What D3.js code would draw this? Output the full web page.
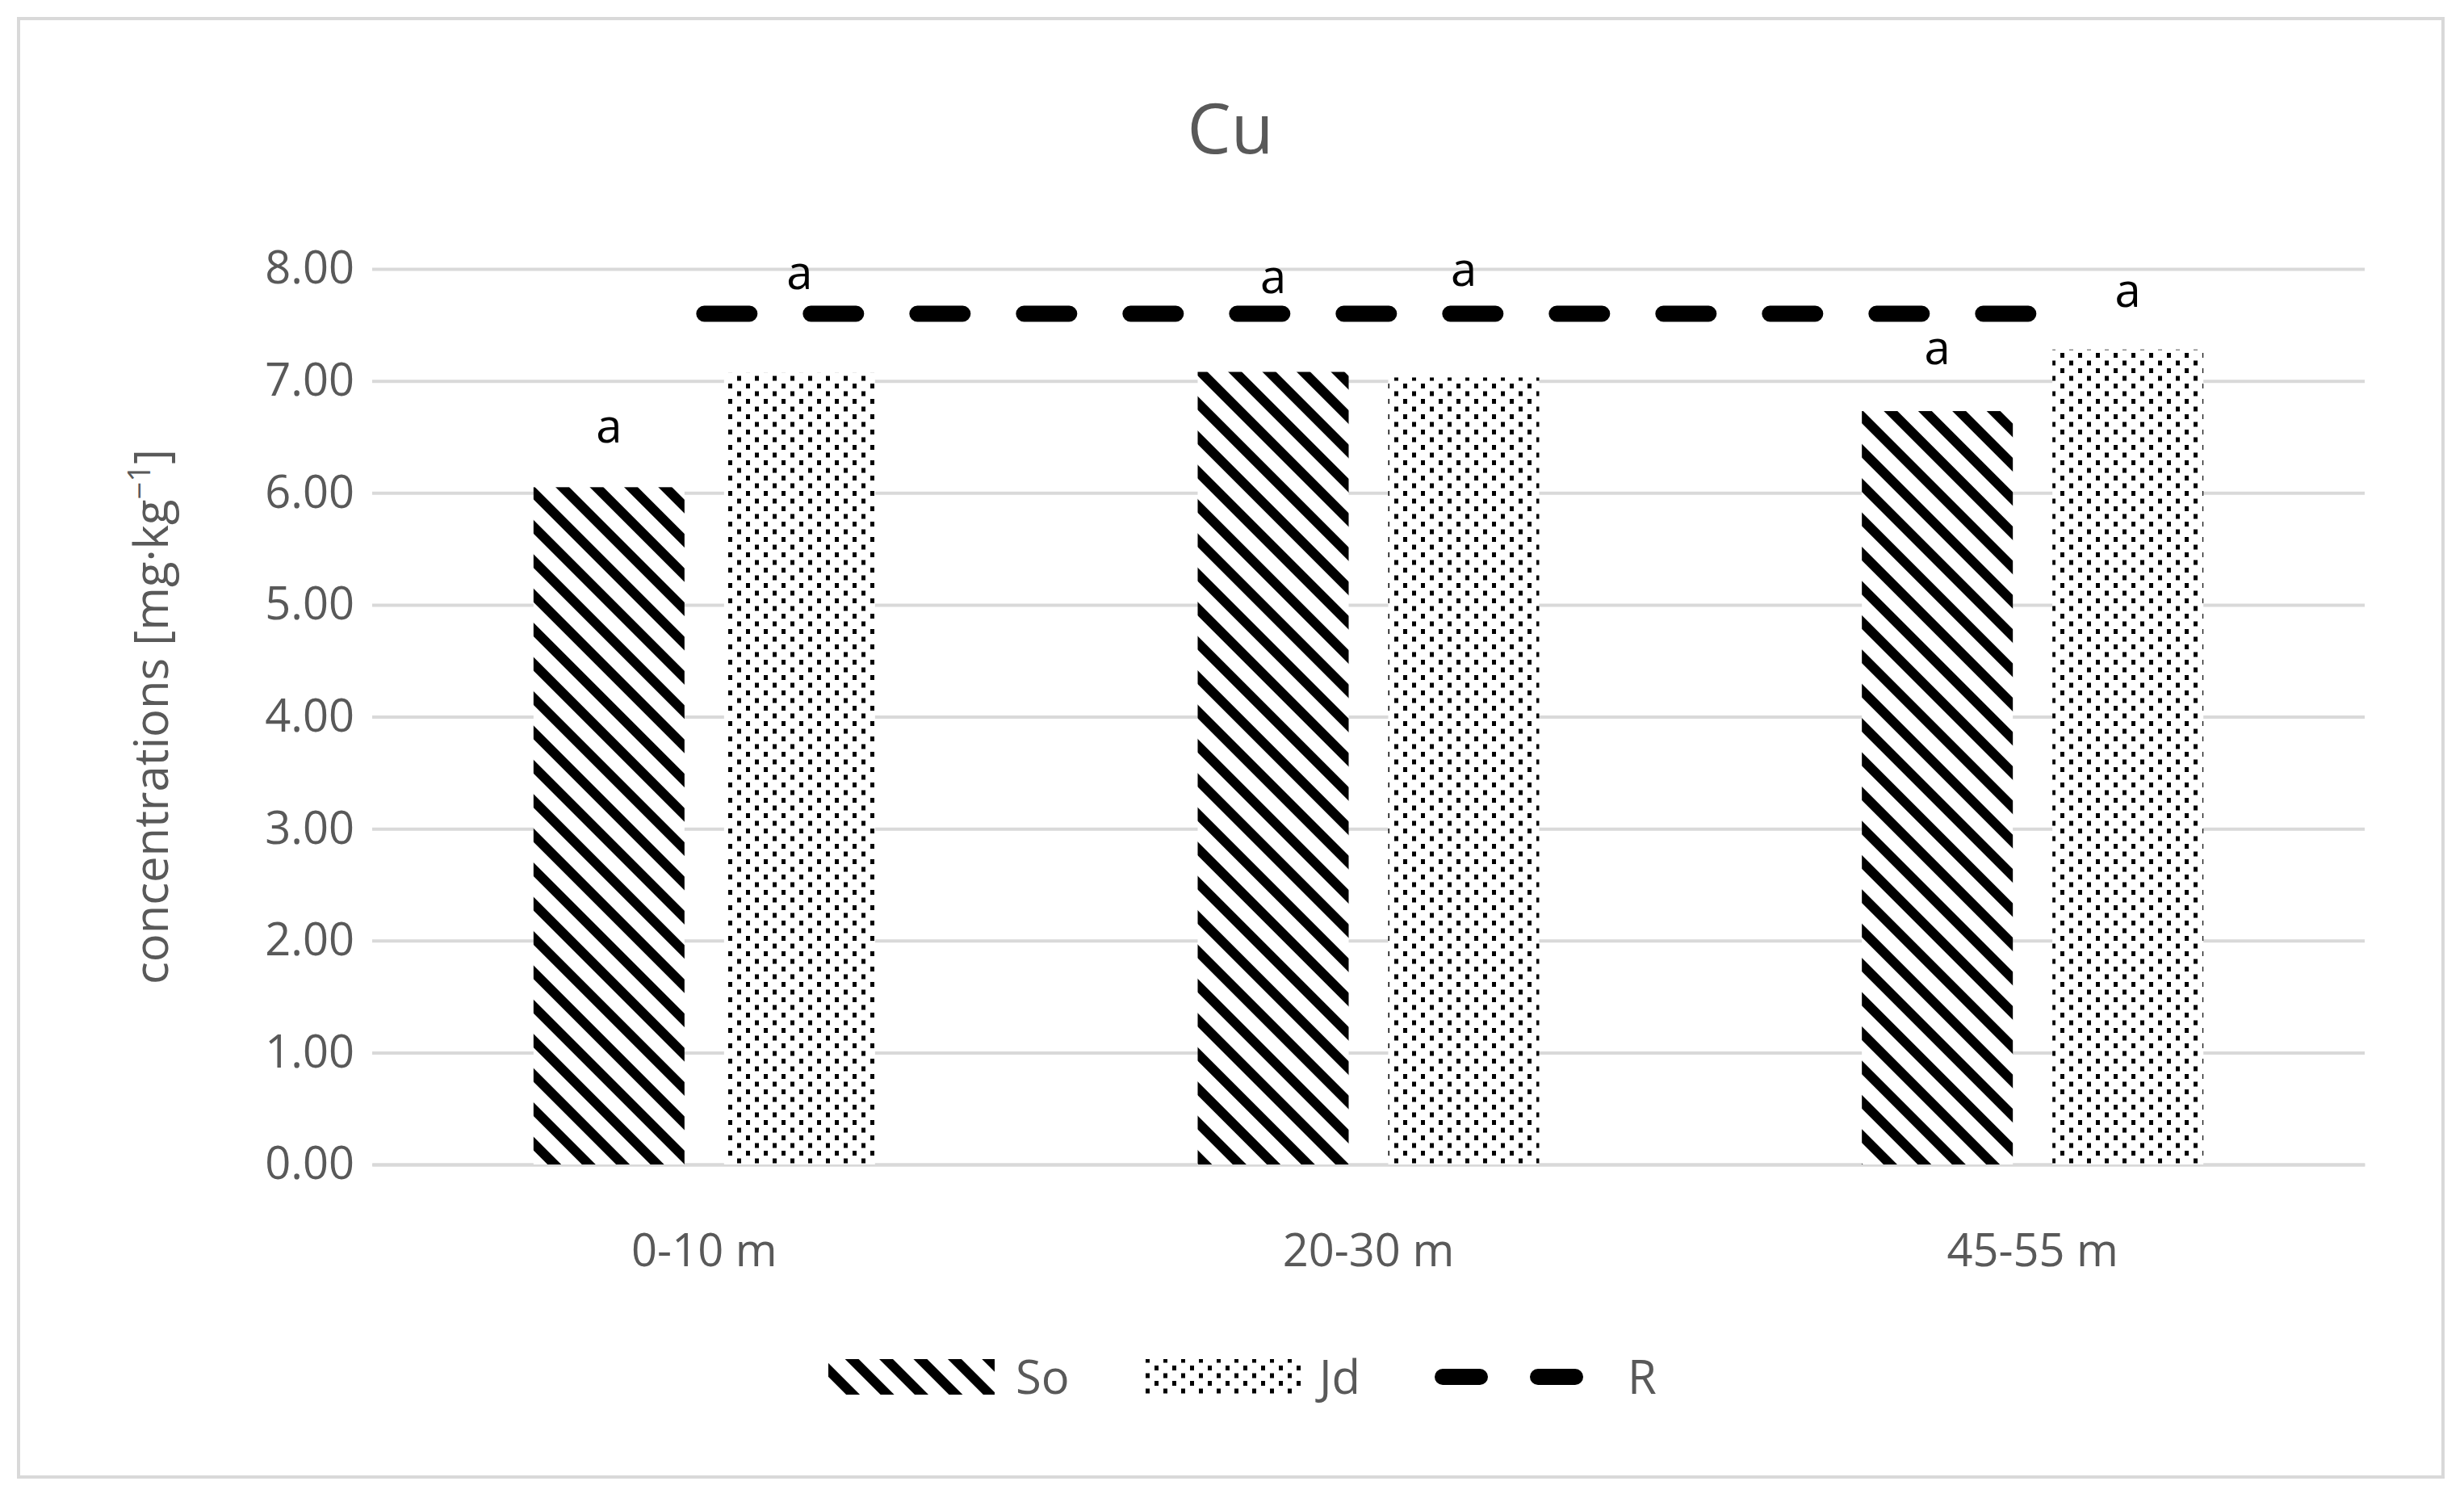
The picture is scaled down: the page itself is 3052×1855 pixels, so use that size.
<!DOCTYPE html>
<html>
<head>
<meta charset="utf-8">
<script src="https://cdn.jsdelivr.net/npm/d3@7"></script>
<style>
body { margin: 0; background: #fff; }
text { font-family: "Open Sans", "Noto Sans", sans-serif; }
</style>
</head>
<body>
<svg id="chart" width="3052" height="1855"></svg>
<script>
var categories = ['0-10 m', '20-30 m', '45-55 m'];
var soValues = [6.05, 7.08, 6.73];
var jdValues = [7.07, 7.03, 7.28];
var rValue = 7.6;
var soLabels = ['a', 'a', 'a'];
var jdLabels = ['a', 'a', 'a'];
var soLabelPos = [6.45, 7.78, 7.15];
var jdLabelPos = [7.82, 7.85, 7.66];
var yTicks = [0, 1, 2, 3, 4, 5, 6, 7, 8];

var svg = d3.select('#chart');
var pLeft = 461, pRight = 2929, pTop = 333, pBottom = 1442;

// border
svg.append('rect').attr('x', 23).attr('y', 23).attr('width', 3003).attr('height', 1806)
    .attr('fill', '#fff').attr('stroke', '#d9d9d9').attr('stroke-width', 4);

var defs = svg.append('defs');
var hatch = defs.append('pattern').attr('id', 'hatch').attr('patternUnits', 'userSpaceOnUse')
    .attr('width', 30).attr('height', 30).attr('patternTransform', 'rotate(-45)');
hatch.append('rect').attr('width', 30).attr('height', 30).attr('fill', '#fff');
hatch.append('rect').attr('width', 12).attr('height', 30).attr('fill', '#000');

var dots = defs.append('pattern').attr('id', 'dots').attr('patternUnits', 'userSpaceOnUse')
    .attr('width', 22).attr('height', 19);
dots.append('rect').attr('width', 22).attr('height', 19).attr('fill', '#fff');
dots.append('rect').attr('x', 0).attr('y', 0).attr('width', 5).attr('height', 6).attr('fill', '#000');
dots.append('rect').attr('x', 11).attr('y', 9.5).attr('width', 5).attr('height', 6).attr('fill', '#000');

var x = d3.scaleBand().domain(categories).range([pLeft, pRight]);
var y = d3.scaleLinear().domain([0, 8]).range([pBottom, pTop]);
var barW = 187, gap = 49;

// y axis
var yAxis = svg.append('g').attr('transform', 'translate(' + pLeft + ',0)')
    .call(d3.axisLeft(y).tickValues(yTicks).tickFormat(d3.format('.2f')).tickSize(-(pRight - pLeft)));
yAxis.select('.domain').remove();
yAxis.selectAll('line').attr('stroke', '#d9d9d9').attr('stroke-width', 4);
yAxis.selectAll('text').attr('fill', '#595959').style('font-size', '56px').attr('x', -22);

// x axis
var xAxis = svg.append('g').attr('transform', 'translate(0,' + pBottom + ')')
    .call(d3.axisBottom(x).tickSize(0));
xAxis.select('.domain').attr('stroke', '#d9d9d9').attr('stroke-width', 4);
xAxis.selectAll('text').attr('fill', '#595959').style('font-size', '56px').attr('dy', '2.2em');

function cx(c) { return x(c) + x.bandwidth() / 2; }

svg.append('g').selectAll('rect').data(soValues).enter().append('rect')
    .attr('x', function (d, i) { return cx(categories[i]) - gap / 2 - barW; })
    .attr('y', function (d) { return y(d); })
    .attr('width', barW)
    .attr('height', function (d) { return pBottom - y(d); })
    .attr('fill', 'url(#hatch)');

svg.append('g').selectAll('rect').data(jdValues).enter().append('rect')
    .attr('x', function (d, i) { return cx(categories[i]) + gap / 2; })
    .attr('y', function (d) { return y(d); })
    .attr('width', barW)
    .attr('height', function (d) { return pBottom - y(d); })
    .attr('fill', 'url(#dots)');

// R line
svg.append('line')
    .attr('x1', cx(categories[0])).attr('x2', cx(categories[2]))
    .attr('y1', y(rValue)).attr('y2', y(rValue))
    .attr('stroke', '#000').attr('stroke-width', 20)
    .attr('stroke-linecap', 'round').attr('stroke-dasharray', '56,76');

// letters
svg.append('g').selectAll('text').data(soLabels).enter().append('text')
    .attr('x', function (d, i) { return cx(categories[i]) - gap / 2 - barW / 2; })
    .attr('y', function (d, i) { return y(soLabelPos[i]); })
    .attr('text-anchor', 'middle').style('font-size', '58px').attr('fill', '#000').text(function (d) { return d; });
svg.append('g').selectAll('text').data(jdLabels).enter().append('text')
    .attr('x', function (d, i) { return cx(categories[i]) + gap / 2 + barW / 2; })
    .attr('y', function (d, i) { return y(jdLabelPos[i]); })
    .attr('text-anchor', 'middle').style('font-size', '58px').attr('fill', '#000').text(function (d) { return d; });

// title
svg.append('text').attr('x', 1524).attr('y', 190).attr('text-anchor', 'middle')
    .style('font-size', '86px').attr('fill', '#595959').text('Cu');

// y label
var yl = svg.append('text').attr('text-anchor', 'middle')
    .attr('transform', 'translate(208,' + ((pTop + pBottom) / 2) + ')rotate(-90)')
    .style('font-size', '58px').attr('fill', '#595959');
yl.append('tspan').text('concentrations [mg·kg');
yl.append('tspan').attr('dy', -22).style('font-size', '38px').text('−1');
yl.append('tspan').attr('dy', 22).text(']');

// legend
var lg = svg.append('g');
lg.append('rect').attr('x', 1026).attr('y', 1683).attr('width', 206).attr('height', 44).attr('fill', 'url(#hatch)');
lg.append('text').attr('x', 1258).attr('y', 1726).style('font-size', '58px').attr('fill', '#595959').text('So');
lg.append('rect').attr('x', 1415).attr('y', 1683).attr('width', 202).attr('height', 44).attr('fill', 'url(#dots)');
lg.append('text').attr('x', 1634).attr('y', 1726).style('font-size', '58px').attr('fill', '#595959').text('Jd');
lg.append('line').attr('x1', 1787).attr('x2', 1970).attr('y1', 1705).attr('y2', 1705)
    .attr('stroke', '#000').attr('stroke-width', 20).attr('stroke-linecap', 'round').attr('stroke-dasharray', '46,72');
lg.append('text').attr('x', 2016).attr('y', 1726).style('font-size', '58px').attr('fill', '#595959').text('R');
</script>
</body>
</html>
